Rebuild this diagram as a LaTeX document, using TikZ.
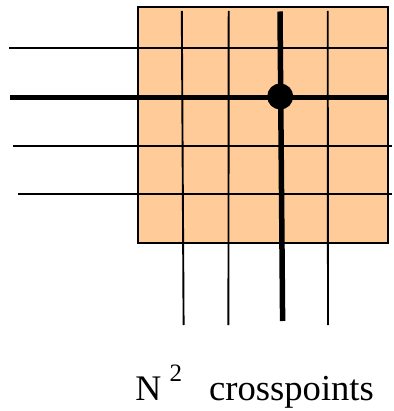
\documentclass[tikz,border=0pt]{standalone}
\usepackage{fontspec}
\setmainfont{Liberation Serif}
\definecolor{peach}{RGB}{255,204,153}
\tikzset{
  thinwire/.style={line width=1.9pt, black},
  thickwire/.style={line width=5.5pt, black},
  gridbox/.style={draw=black, line width=1.9pt, fill=peach, inner sep=0pt, outer sep=0pt, anchor=north west},
  lbl/.style={inner sep=0pt, outer sep=0pt, anchor=base west},
}
\begin{document}
\begin{tikzpicture}[x=1pt,y=-1pt]
\useasboundingbox (0,0) rectangle (393,411);
\node[gridbox, minimum width=249.5pt, minimum height=236pt] (grid) at (138.3,7) {};
% horizontal wires (inputs)
\coordinate (h1a) at (9,48.3);   \coordinate (h1b) at (387.7,48.3);
\coordinate (h2a) at (10,97.3);  \coordinate (h2b) at (387.7,97.3);
\coordinate (h3a) at (13,145.7); \coordinate (h3b) at (391.5,145.7);
\coordinate (h4a) at (18,194);   \coordinate (h4b) at (391.5,194);
% vertical wires (outputs)
\coordinate (v1a) at (181.8,11); \coordinate (v1b) at (183.6,325);
\coordinate (v2a) at (228.7,11); \coordinate (v2b) at (228.4,325);
\coordinate (v3a) at (280,11.5); \coordinate (v3b) at (282.6,321);
\coordinate (v4a) at (327.7,11); \coordinate (v4b) at (328,325);
\draw[thinwire] (h1a) -- (h1b);
\draw[thinwire] (h3a) -- (h3b);
\draw[thinwire] (h4a) -- (h4b);
\draw[thinwire] (v1a) -- (v1b);
\draw[thinwire] (v2a) -- (v2b);
\draw[thinwire] (v4a) -- (v4b);
\draw[thickwire] (h2a) -- (h2b);
\draw[thickwire] (v3a) -- (v3b);
\node[circle, fill=black, minimum size=26pt, inner sep=0pt] (xp) at (280.2,96.5) {};
% label
\node[lbl, font=\fontsize{36}{40}\selectfont] (nlbl) at (135.3,400.5) {N};
\node[lbl, font=\fontsize{25}{28}\selectfont] (sq) at (169.6,381.7) {2};
\node[lbl, font=\fontsize{36.6}{40}\selectfont] (cp) at (209.2,400.5) {crosspoints};
\end{tikzpicture}
\end{document}
